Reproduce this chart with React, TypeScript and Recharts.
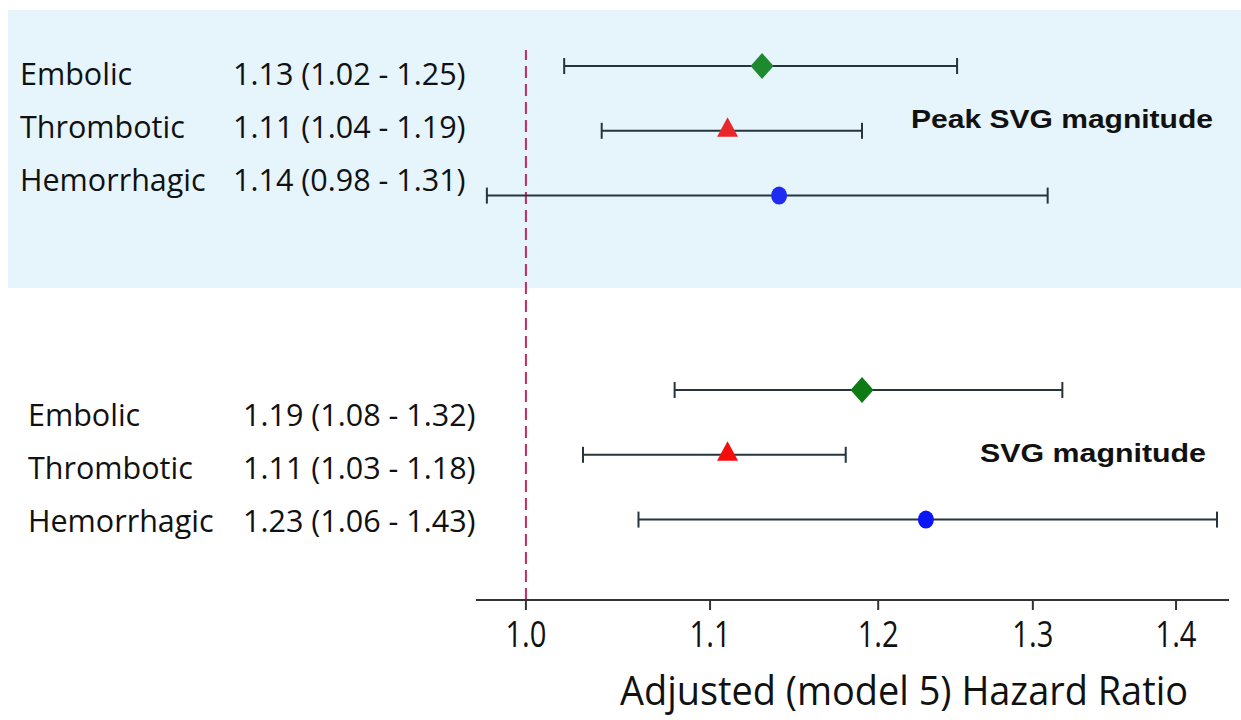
import React from "react";
import {
  ScatterChart,
  Scatter,
  XAxis,
  YAxis,
  ErrorBar,
  ReferenceLine,
  Label,
} from "recharts";

const outcomes = ["Embolic", "Thrombotic", "Hemorrhagic"];
const groups = ["Peak SVG magnitude", "SVG magnitude"];

const peakHR = [1.13, 1.11, 1.14];
const peakLow = [1.02, 1.04, 0.98];
const peakHigh = [1.25, 1.19, 1.31];

const svgHR = [1.19, 1.11, 1.23];
const svgLow = [1.08, 1.03, 1.06];
const svgHigh = [1.32, 1.18, 1.43];

const xTicks = [1.0, 1.1, 1.2, 1.3, 1.4];

// layout (in row units of the y scale)
const GROUP_START = [0, 5];
const LABEL_START = [0.29, 5.55];
const LABEL_STEP = 0.82;
const GROUP_LABEL_ROW = [0.95, 6.11];
const NAME_X = [20, 28];
const EST_X = [233, 243];

const FONT = "'Open Sans', sans-serif";

const hrs = [peakHR, svgHR];
const lows = [peakLow, svgLow];
const highs = [peakHigh, svgHigh];

const points = groups.flatMap((_, gi) =>
  outcomes.map((_, oi) => {
    const hr = hrs[gi][oi];
    return {
      group: gi,
      outcome: oi,
      hr,
      row: GROUP_START[gi] + oi,
      err: [hr - lows[gi][oi], highs[gi][oi] - hr],
    };
  })
);

const rowLabels = groups.flatMap((_, gi) =>
  outcomes.map((name, oi) => ({
    value: LABEL_START[gi] + oi * LABEL_STEP,
    group: gi,
    name,
    est: `${hrs[gi][oi].toFixed(2)} (${lows[gi][oi].toFixed(2)} - ${highs[gi][oi].toFixed(2)})`,
  }))
);

const markColors = [
  ["#1e8a30", "#0e7a14"],
  ["#e8272c", "#f30d0d"],
  ["#1d2cf0", "#0b16f5"],
];

function Marker(props: any) {
  const { cx, cy, payload } = props;
  const color = markColors[payload.outcome][payload.group];
  if (payload.outcome === 0) {
    return (
      <polygon
        points={`${cx},${cy - 13} ${cx + 11.5},${cy} ${cx},${cy + 13} ${cx - 11.5},${cy}`}
        fill={color}
      />
    );
  }
  if (payload.outcome === 1) {
    return (
      <polygon
        points={`${cx},${cy - 13.5} ${cx + 10.5},${cy + 6} ${cx - 10.5},${cy + 6}`}
        fill={color}
      />
    );
  }
  return <ellipse cx={cx} cy={cy} rx={8} ry={9} fill={color} />;
}

function RowTick(props: any) {
  const { y, payload } = props;
  const lab = rowLabels.find((l) => Math.abs(l.value - payload.value) < 1e-6);
  if (!lab) return null;
  return (
    <g fontFamily={FONT} fontSize={30.5} fill="#111">
      <text x={NAME_X[lab.group]} y={y}>
        {lab.name}
      </text>
      <text x={EST_X[lab.group]} y={y}>
        {lab.est}
      </text>
    </g>
  );
}

function GroupTick(props: any) {
  const { y, payload } = props;
  const gi = GROUP_LABEL_ROW.findIndex((v) => Math.abs(v - payload.value) < 1e-6);
  if (gi < 0) return null;
  const widths = [302, 226];
  const right = [1213, 1206];
  return (
    <text
      x={right[gi]}
      y={y}
      textAnchor="end"
      fontFamily="'Liberation Sans', Arial, sans-serif"
      fontWeight="bold"
      fontSize={25}
      textLength={widths[gi]}
      lengthAdjust="spacingAndGlyphs"
      fill="#111"
    >
      {groups[gi]}
    </text>
  );
}

function HrTick(props: any) {
  const { x, y, payload } = props;
  return (
    <text
      x={x}
      y={y + 35}
      textAnchor="middle"
      fontFamily={FONT}
      fontSize={36}
      textLength={41}
      lengthAdjust="spacingAndGlyphs"
      fill="#111"
    >
      {payload.value.toFixed(1)}
    </text>
  );
}

export default function App() {
  const yDomain = [-0.247, 8.241];
  return (
    <div style={{ position: "absolute", left: 0, top: 0, width: 1241, height: 720, background: "#fff" }}>
      <div
        style={{
          position: "absolute",
          left: 8,
          top: 10,
          width: 1233,
          height: 278,
          background: "#e6f4fc",
        }}
      />
      <div style={{ position: "absolute", left: 0, top: 0 }}>
        <ScatterChart width={1241} height={720} margin={{ top: 50, right: 11, bottom: 0, left: 0 }}>
          <XAxis
            type="number"
            dataKey="hr"
            scale="log"
            domain={[0.9745, 1.4389]}
            allowDataOverflow
            ticks={xTicks}
            height={120}
            axisLine={{ stroke: "#333", strokeWidth: 2 }}
            tickLine={{ stroke: "#333", strokeWidth: 2 }}
            tickSize={10}
            tick={<HrTick />}
          >
            <Label
              content={() => (
                <text
                  x={904}
                  y={705}
                  textAnchor="middle"
                  fontFamily={FONT}
                  fontSize={40}
                  textLength={568}
                  lengthAdjust="spacingAndGlyphs"
                  fill="#111"
                >
                  Adjusted (model 5) Hazard Ratio
                </text>
              )}
            />
          </XAxis>
          <YAxis
            yAxisId="left"
            type="number"
            dataKey="row"
            reversed
            domain={yDomain}
            allowDataOverflow
            ticks={rowLabels.map((l) => l.value)}
            width={476}
            axisLine={false}
            tickLine={false}
            tick={<RowTick />}
          />
          <YAxis
            yAxisId="right"
            orientation="right"
            type="number"
            reversed
            domain={yDomain}
            allowDataOverflow
            ticks={GROUP_LABEL_ROW}
            width={1}
            axisLine={false}
            tickLine={false}
            tick={<GroupTick />}
          />
          <ReferenceLine
            yAxisId="left"
            x={1}
            stroke="#c42a5c"
            strokeWidth={2}
            strokeDasharray="12 6"
          />
          {outcomes.map((name, oi) => (
            <Scatter
              key={name}
              name={name}
              yAxisId="left"
              data={points.filter((p) => p.outcome === oi)}
              shape={(p: any) => <Marker {...p} />}
              isAnimationActive={false}
            />
          ))}
          <Scatter
            name="ci"
            yAxisId="left"
            data={points}
            shape={() => <g />}
            isAnimationActive={false}
          >
            <ErrorBar dataKey="err" direction="x" width={8} stroke="#27343a" strokeWidth={2} />
          </Scatter>
        </ScatterChart>
      </div>
    </div>
  );
}
